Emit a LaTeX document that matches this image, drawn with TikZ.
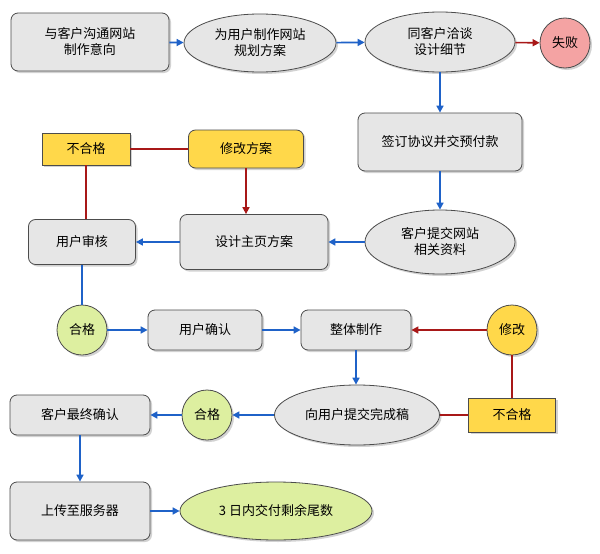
\documentclass[tikz,border=0pt]{standalone}
\usepackage{fontspec}
\setmainfont{Noto Sans CJK SC}
\usetikzlibrary{shapes.geometric,arrows.meta,shadows}
\definecolor{boxfill}{HTML}{E6E6E6}
\definecolor{yel}{HTML}{FFD84A}
\definecolor{grn}{HTML}{DDEFA0}
\definecolor{pnk}{HTML}{F4A3A3}
\definecolor{blu}{HTML}{1F62C8}
\definecolor{rd}{HTML}{A81818}
\tikzset{
 base/.style={draw=black!70,line width=0.8pt,font=\fontsize{13}{16}\selectfont,align=center,inner sep=0pt,drop shadow={shadow xshift=2pt,shadow yshift=-2pt,fill=black!35}},
 rbox/.style={base,rounded corners=7pt,fill=boxfill},
 ell/.style={base,ellipse,fill=boxfill},
 circ/.style={base,circle,minimum size=50pt},
 ybox/.style={base,fill=yel},
 ba/.style={blu,line width=1.6pt,-{Triangle[length=7pt,width=7pt]}},
 bl/.style={blu,line width=1.6pt},
 ra/.style={rd,line width=1.6pt,-{Triangle[length=7pt,width=7pt]}},
 rl/.style={rd,line width=1.6pt},
}
\begin{document}
\begin{tikzpicture}[x=1pt,y=-1pt]
\useasboundingbox[fill=white] (0,0) rectangle (600,554);
\node[rbox,minimum width=158pt,minimum height=58pt] (a) at (90,42) {与客户沟通网站\\制作意向};
\node[ell,minimum width=152pt,minimum height=58pt] (b) at (260,43) {为用户制作网站\\规划方案};
\node[ell,minimum width=150pt,minimum height=60pt] (c) at (440,42) {同客户洽谈\\设计细节};
\node[circ,fill=pnk] (f) at (565,43) {失败};
\node[rbox,minimum width=164pt,minimum height=58pt] (d) at (440,142) {签订协议并交预付款};
\node[ell,minimum width=150pt,minimum height=64pt] (e) at (440,242) {客户提交网站\\相关资料};
\node[rbox,minimum width=148pt,minimum height=55pt] (g) at (254,242) {设计主页方案};
\node[rbox,minimum width=107pt,minimum height=45pt] (h) at (82,242) {用户审核};
\node[ybox,minimum width=88pt,minimum height=32pt] (i) at (86,149) {不合格};
\node[ybox,rounded corners=7pt,minimum width=115pt,minimum height=38pt] (j) at (246,149) {修改方案};
\node[circ,fill=grn] (k) at (82,330) {合格};
\node[rbox,minimum width=114pt,minimum height=40pt] (l) at (205,330) {用户确认};
\node[rbox,minimum width=110pt,minimum height=40pt] (m) at (356,330) {整体制作};
\node[circ,fill=yel] (n) at (512,330) {修改};
\node[ell,minimum width=165pt,minimum height=60pt] (o) at (357,415) {向用户提交完成稿};
\node[ybox,minimum width=87pt,minimum height=34pt] (p) at (512,415) {不合格};
\node[circ,fill=grn] (q) at (207,415) {合格};
\node[rbox,minimum width=140pt,minimum height=40pt] (r) at (80,415) {客户最终确认};
\node[rbox,minimum width=140pt,minimum height=58pt] (s) at (80,511) {上传至服务器};
\node[ell,fill=grn,minimum width=192pt,minimum height=58pt] (t) at (276,511) {3 日内交付剩余尾数};
\draw[ba] (a) -- (b);
\draw[ba] (b) -- (c);
\draw[ra] (c) -- (f);
\draw[ba] (c) -- (d);
\draw[ba] (d) -- (e);
\draw[ba] (e) -- (g);
\draw[ba] (g) -- (h);
\draw[bl] (h) -- (k);
\draw[ba] (k) -- (l);
\draw[ba] (l) -- (m);
\draw[ba] (m.south) -- (m.south |- o.north);
\draw[ra] (n) -- (m);
\draw[rl] (p) -- (n);
\draw[rl] (o) -- (p);
\draw[ba] (o) -- (q);
\draw[ba] (q) -- (r);
\draw[ba] (r) -- (s);
\draw[ba] (s) -- (t);
\draw[rl] (i.south) -- (i.south |- h.north);
\draw[rl] (i) -- (j);
\draw[ra] (j.south) -- (j.south |- g.north);
\end{tikzpicture}
\end{document}
